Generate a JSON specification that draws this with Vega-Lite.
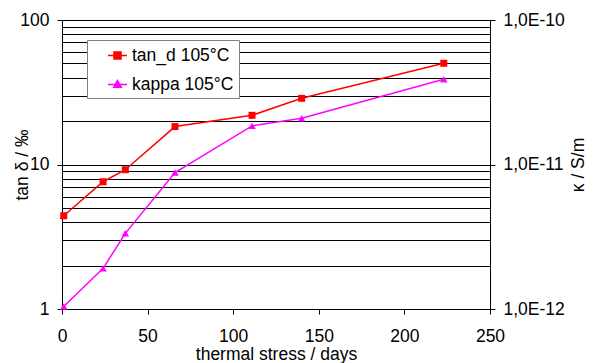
{
  "$schema": "https://vega.github.io/schema/vega-lite/v6.json",
  "width": 428,
  "height": 289,
  "autosize": "none",
  "padding": {"left": 62, "top": 20, "right": 103, "bottom": 54},
  "background": "white",
  "config": {
    "font": "Liberation Sans",
    "view": {"stroke": null},
    "axis": {
      "labelFont": "Liberation Sans",
      "titleFont": "Liberation Sans",
      "labelFontSize": 17.5,
      "titleFontSize": 17.5,
      "titleFontWeight": "normal",
      "labelColor": "black",
      "titleColor": "black",
      "domainColor": "black",
      "domainWidth": 1,
      "tickColor": "black",
      "tickSize": 5,
      "tickWidth": 1,
      "labelFlush": false,
      "labelOverlap": false
    }
  },
  "data": {
    "values": [
      {"day": 1, "series": "tan_d 105°C", "value": 4.42},
      {"day": 24, "series": "tan_d 105°C", "value": 7.6},
      {"day": 37, "series": "tan_d 105°C", "value": 9.2},
      {"day": 66, "series": "tan_d 105°C", "value": 18.3},
      {"day": 111, "series": "tan_d 105°C", "value": 21.9},
      {"day": 140, "series": "tan_d 105°C", "value": 28.7},
      {"day": 223, "series": "tan_d 105°C", "value": 50.2},
      {"day": 1, "series": "kappa 105°C", "value": 1.04e-12},
      {"day": 24, "series": "kappa 105°C", "value": 1.91e-12},
      {"day": 37, "series": "kappa 105°C", "value": 3.34e-12},
      {"day": 66, "series": "kappa 105°C", "value": 8.8e-12},
      {"day": 111, "series": "kappa 105°C", "value": 1.85e-11},
      {"day": 140, "series": "kappa 105°C", "value": 2.09e-11},
      {"day": 223, "series": "kappa 105°C", "value": 3.89e-11}
    ]
  },
  "encoding": {
    "x": {
      "field": "day",
      "type": "quantitative",
      "scale": {"domain": [0, 250], "nice": false},
      "axis": {
        "values": [0, 50, 100, 150, 200, 250],
        "title": "thermal stress / days",
        "grid": false,
        "labelPadding": 13,
        "titlePadding": 1
      }
    },
    "color": {
      "field": "series",
      "type": "nominal",
      "scale": {"domain": ["tan_d 105°C", "kappa 105°C"], "range": ["#FF0000", "#FF00FF"]},
      "legend": {
        "title": null,
        "orient": "none",
        "legendX": 25,
        "legendY": 20,
        "padding": 5,
        "fillColor": "white",
        "strokeColor": "#808080",
        "symbolSize": 361,
        "symbolOffset": 15,
        "labelOffset": 4,
        "rowPadding": 10,
        "labelFont": "Liberation Sans",
        "labelFontSize": 17.5,
        "labelColor": "black",
        "labelExpr": "datum.label + '\u00a0\u00a0\u00a0\u00a0'",
        "symbolStrokeWidth": 1.5,
        "encode": {
          "symbols": {
            "update": {
              "shape": {"signal": "datum.value == 'tan_d 105°C' ? 'M-1,0H1M-0.37,-0.37H0.37V0.37H-0.37Z' : 'M-1,0H1M0,-0.42L0.4,0.3H-0.4Z'"},
              "fill": {"signal": "datum.value == 'tan_d 105°C' ? '#FF0000' : '#FF00FF'"},
              "stroke": {"signal": "datum.value == 'tan_d 105°C' ? '#FF0000' : '#FF00FF'"},
              "opacity": {"value": 1},
              "fillOpacity": {"value": 1}
            }
          }
        }
      }
    }
  },
  "layer": [
    {
      "transform": [{"filter": "datum.series == 'tan_d 105°C'"}],
      "encoding": {
        "y": {
          "field": "value",
          "type": "quantitative",
          "scale": {"type": "log", "domain": [1, 100], "nice": false},
          "axis": {
            "title": "tan δ / ‰",
            "orient": "left",
            "values": [1, 2, 3, 4, 5, 6, 7, 8, 9, 10, 20, 30, 40, 50, 60, 70, 80, 90, 100],
            "grid": true,
            "gridColor": "black",
            "gridWidth": 1,
            "gridOpacity": 1,
            "labelExpr": "datum.value == 1 || datum.value == 10 || datum.value == 100 ? format(datum.value, 'd') : ''",
            "tickOpacity": {"condition": {"test": "datum.value == 1 || datum.value == 10 || datum.value == 100", "value": 1}, "value": 0},
            "labelPadding": 8,
            "titleX": -40,
            "titleY": 144.5,
            "titleAngle": -90,
            "titleAlign": "center",
            "titleBaseline": "middle"
          }
        }
      },
      "layer": [
        {"mark": {"type": "line", "strokeWidth": 1.5}},
        {"mark": {"type": "point", "shape": "square", "filled": true, "size": 49, "opacity": 1}}
      ]
    },
    {
      "transform": [{"filter": "datum.series == 'kappa 105°C'"}],
      "encoding": {
        "y": {
          "field": "value",
          "type": "quantitative",
          "scale": {"type": "log", "domain": [1e-12, 1e-10], "nice": false},
          "axis": {
            "title": "κ / S/m",
            "orient": "right",
            "values": [1e-12, 1e-11, 1e-10],
            "grid": false,
            "labelExpr": "upper(replace(format(datum.value, '.1e'), '.', ','))",
            "labelPadding": 8,
            "titleX": 88,
            "titleY": 144.5,
            "titleAngle": -90,
            "titleAlign": "center",
            "titleBaseline": "middle"
          }
        }
      },
      "layer": [
        {"mark": {"type": "line", "strokeWidth": 1.5}},
        {"mark": {"type": "point", "shape": "triangle-up", "filled": true, "size": 55, "opacity": 1}}
      ]
    }
  ],
  "resolve": {"scale": {"y": "independent"}}
}
